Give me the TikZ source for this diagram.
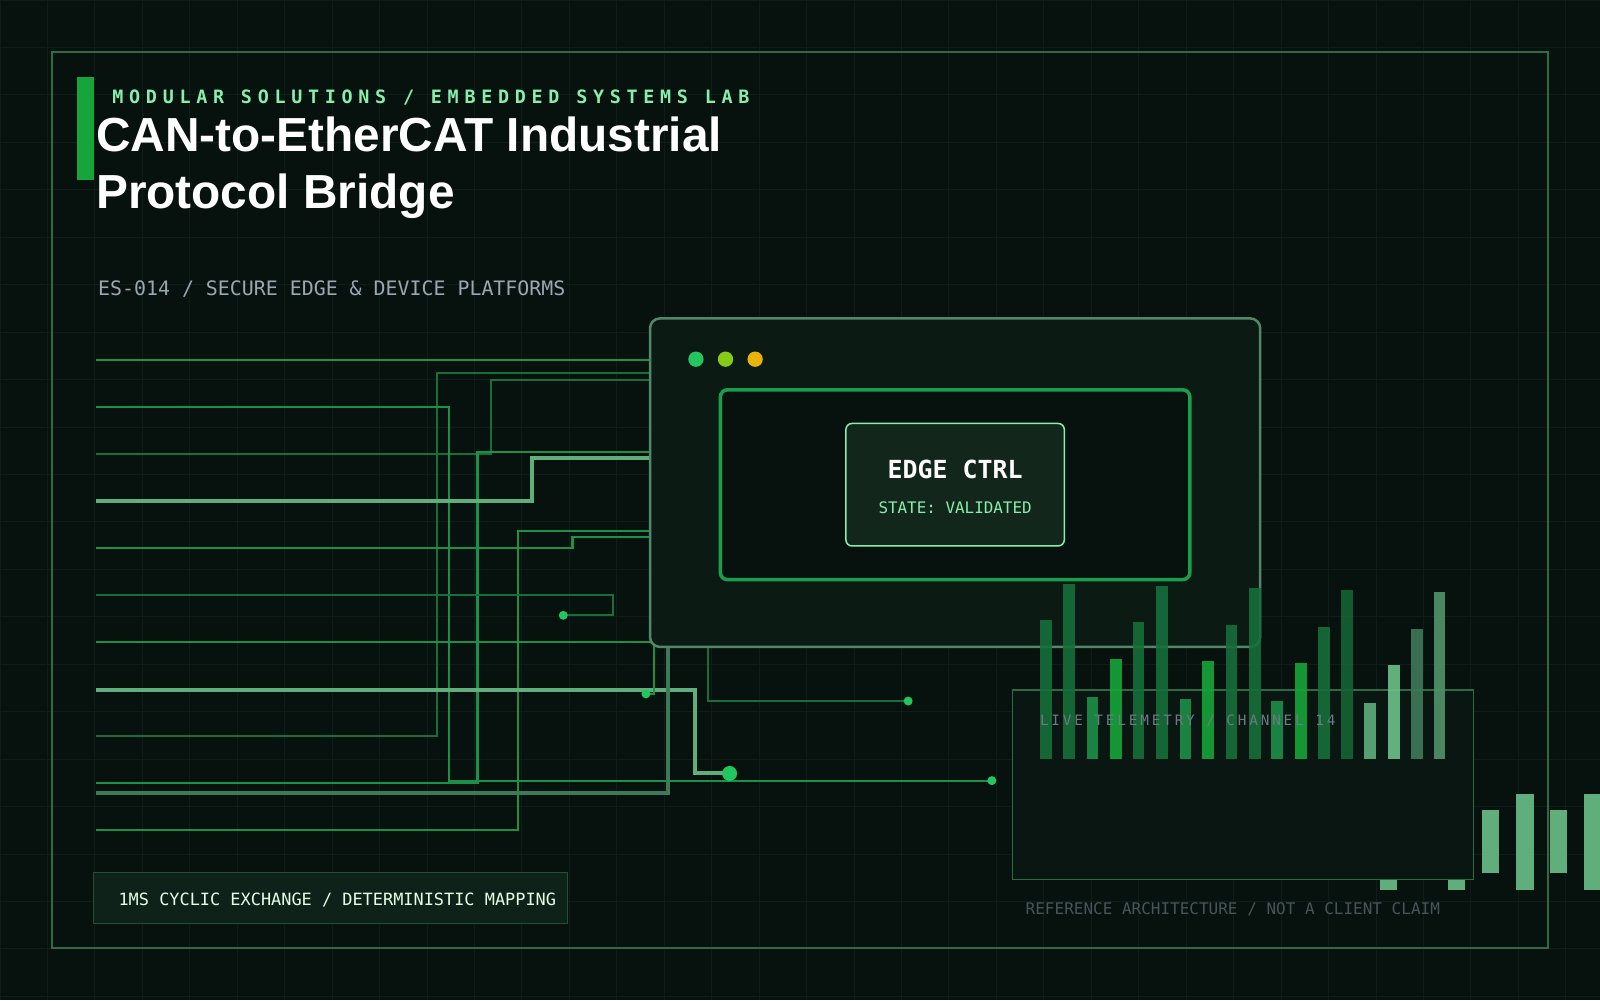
\documentclass[tikz,border=0pt]{standalone}
\usepackage{fontspec}
\setmainfont{Liberation Sans}
\newfontfamily\mono{DejaVu Sans Mono}
\newfontfamily\monosp[LetterSpace=31]{DejaVu Sans Mono}
\newfontfamily\monotl[LetterSpace=20]{DejaVu Sans Mono}
\definecolor{bg}{HTML}{07110E}
\definecolor{gridc}{HTML}{0E1D17}
\definecolor{framec}{HTML}{2E6B45}
\definecolor{tr}{HTML}{1C8F48}
\definecolor{trd}{HTML}{166F3A}
\definecolor{trl}{HTML}{5FAE7C}
\definecolor{trm}{HTML}{3F7A58}
\definecolor{dotc}{HTML}{22C55E}
\definecolor{lime}{HTML}{84CC16}
\definecolor{amber}{HTML}{EAB308}
\definecolor{mint}{HTML}{86EFAC}
\definecolor{grey}{HTML}{9AA7B5}
\definecolor{winf}{HTML}{0C1A14}
\definecolor{boxf}{HTML}{13261B}
\definecolor{footf}{HTML}{0F2219}
\definecolor{panf}{HTML}{0A1611}
\begin{document}
\begin{tikzpicture}[x=1.0204pt,y=-1.0204pt,
  trace/.style={draw=tr,line width=2.2pt},
  traced/.style={draw=trd,line width=2pt},
  tracel/.style={draw=trl,line width=4pt},
  tracem/.style={draw=trm,line width=4pt},
  pin/.style={circle,fill=dotc,inner sep=0pt,minimum size=9pt},
  bar/.style={fill=#1,opacity=0.9},
  txt/.style={inner sep=0pt,anchor=base west}]
\useasboundingbox (0,0) rectangle (1568,980);
\clip (0,0) rectangle (1568,980);
\fill[bg] (0,0) rectangle (1568,980);
\foreach \i in {0,...,34}{\draw[gridc,line width=1pt] (\i*46.5,0) -- (\i*46.5,980);}
\foreach \i in {0,...,21}{\draw[gridc,line width=1pt] (0,\i*46.5) -- (1568,\i*46.5);}
\draw[framec,line width=1.5pt] (51,51) rectangle (1517,929);
% header
\fill[tr!80!green] (75,75) rectangle (92,176);
\node[txt,text=mint,font=\monosp\bfseries\fontsize{18.4}{20}\selectfont] (sub) at (110,101) {MODULAR SOLUTIONS / EMBEDDED SYSTEMS LAB};
\node[txt,text=white,font=\bfseries\fontsize{47.8}{52}\selectfont] (t1) at (94,148) {CAN-to-EtherCAT Industrial};
\node[txt,text=white,font=\bfseries\fontsize{47.8}{52}\selectfont] (t2) at (94,204) {Protocol Bridge};
\node[txt,text=grey,font=\mono\fontsize{19.9}{22}\selectfont] (code) at (96,290) {ES‑014 / SECURE EDGE \& DEVICE PLATFORMS};
% traces
\draw[trace] (94,353) -- (640,353);
\draw[traced] (94,721) -- (428,721) -- (428,366) -- (640,366);
\draw[traced] (94,445) -- (481,445) -- (481,372) -- (640,372);
\draw[trace] (94,767) -- (468,767) -- (468,443) -- (640,443);
\draw[trace] (94,399) -- (440,399) -- (440,765) -- (972,765);
\draw[tracel] (94,491) -- (521,491) -- (521,449) -- (640,449);
\draw[trace] (94,537) -- (561,537) -- (561,526) -- (640,526);
\draw[trace] (94,813) -- (508,813) -- (508,520) -- (640,520);
\draw[traced] (94,583) -- (601,583) -- (601,603) -- (552,603);
\draw[trace] (94,629) -- (640,629);
\draw[tracel] (94,676) -- (681,676) -- (681,758) -- (715,758);
\draw[tracem] (94,777) -- (655,777) -- (655,630);
\draw[trace] (641,630) -- (641,680) -- (633,680);
\draw[traced] (694,630) -- (694,687) -- (890,687);
\node[pin] (p1) at (552,603) {};
\node[pin] (p2) at (633,680) {};
\node[pin] (p3) at (890,687) {};
\node[pin] (p4) at (972,765) {};
\node[pin,minimum size=15pt] (p5) at (715,758) {};
% window
\draw[draw=trm!90!white,fill=winf,line width=2.5pt,rounded corners=10pt] (637,312) rectangle (1235,634);
\fill[dotc] (682,352) circle (7.5);
\fill[lime] (711,352) circle (7.5);
\fill[amber] (740,352) circle (7.5);
\draw[draw=dotc!80!black,fill=bg,line width=3.5pt,rounded corners=7pt] (706,382) rectangle (1166,568);
\draw[draw=mint,fill=boxf,line width=1.5pt,rounded corners=6pt] (829,415) rectangle (1043,535);
\node[text=white,font=\mono\bfseries\fontsize{24.9}{28}\selectfont,inner sep=0pt] (edge) at (936,460) {EDGE CTRL};
\node[text=mint,font=\mono\fontsize{15.9}{18}\selectfont,inner sep=0pt] (state) at (936,498) {STATE: VALIDATED};
% lower right bars behind panel
\foreach \x/\t in {1352/830,1419/830}{\fill[trl] (\x,\t) rectangle (\x+17,872);}
\foreach \x/\t/\b in {1452/794/856,1486/778/872,1519/794/856,1552/778/872}{\fill[trl] (\x,\t) rectangle (\x+17,\b);}
% telemetry panel
\draw[draw=framec,fill=panf,line width=1.5pt] (992,676) rectangle (1444,862);
% bars
\foreach \x/\t/\c in {1019/608/trd,1042/572/trd,1065/683/tr,1088/646/tr!80!green,1110/610/trd,1133/574/trd,1156/685/tr,1178/648/tr!80!green,1201/612/trd,1224/576/trd,1246/687/tr,1269/650/tr!80!green,1292/614/trd,1314/578/trd!90!black,1337/689/trl,1360/652/trl!70!mint,1383/616/trm,1405/580/trl!85!black}
  {\fill[bar=\c] (\x,\t) rectangle (\x+11.5,744);}
\node[txt,text=grey!70!bg,font=\monotl\fontsize{14.3}{16}\selectfont] (tel) at (1019,711) {LIVE TELEMETRY / CHANNEL 14};
% footer
\draw[draw=framec!70!bg,fill=footf,line width=1.2pt] (92,855) rectangle (556,905);
\node[txt,text=green!10!white,font=\mono\fontsize{16.9}{19}\selectfont] (cyc) at (116,887) {1MS CYCLIC EXCHANGE / DETERMINISTIC MAPPING};
\node[txt,text=grey!45!bg,font=\mono\fontsize{16}{18}\selectfont] (ref) at (1005,896) {REFERENCE ARCHITECTURE / NOT A CLIENT CLAIM};
\end{tikzpicture}
\end{document}
